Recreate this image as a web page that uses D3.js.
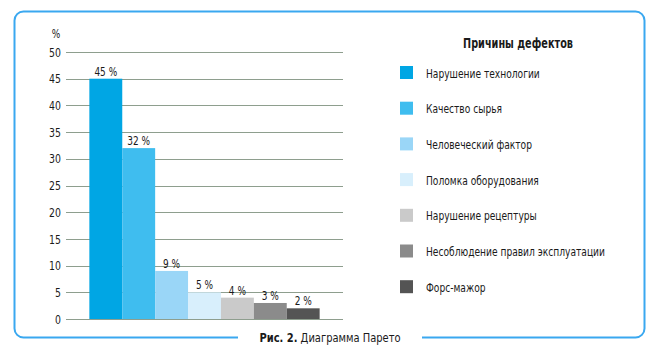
<!DOCTYPE html>
<html><head><meta charset="utf-8">
<script src="https://cdn.jsdelivr.net/npm/d3@7"></script>
<style>
body{margin:0;background:#fff;}
text{font-family:"DejaVu Sans Condensed","DejaVu Sans",sans-serif;fill:#1a1a1a;}
</style></head>
<body><svg id="c" width="664" height="351"></svg>
<script>
const categories = ["Нарушение технологии","Качество сырья","Человеческий фактор","Поломка оборудования","Нарушение рецептуры","Несоблюдение правил эксплуатации","Форс-мажор"];
const values = [45, 32, 9, 5, 4, 3, 2];
const colors = ["#00a6e4","#3fbdef","#9ad6f7","#d8effc","#cacaca","#8b8b8b","#545454"];
const yTicks = [0,5,10,15,20,25,30,35,40,45,50];
const legendTitle = "Причины дефектов";
const caption = ["Рис. 2.", " Диаграмма Парето"];

const NARROW = 0.8;
const svg = d3.select("#c");

function ntext(parent, x, y, str, size, anchor, k) {
  const g = parent.append("g").attr("transform", `translate(${x},${y}) scale(${k||NARROW},1)`);
  return g.append("text").attr("text-anchor", anchor||"start").style("font-size", size+"px").text(str);
}

// frame with gap for caption
const fx0=14.5, fy0=11.5, fx1=644.5, fy1=337.5, r=9;
const frame = d3.path();
frame.moveTo(238, fy1);
frame.lineTo(fx0+r, fy1);
frame.arcTo(fx0, fy1, fx0, fy1-r, r);
frame.lineTo(fx0, fy0+r);
frame.arcTo(fx0, fy0, fx0+r, fy0, r);
frame.lineTo(fx1-r, fy0);
frame.arcTo(fx1, fy0, fx1, fy0+r, r);
frame.lineTo(fx1, fy1-r);
frame.arcTo(fx1, fy1, fx1-r, fy1, r);
frame.lineTo(422, fy1);
svg.append("path").attr("d", frame.toString()).attr("fill","none").attr("stroke","#3aa8f0").attr("stroke-width",2);

const ct = ntext(svg, 330, 342, null, 13, "middle", 0.85);
ct.append("tspan").style("font-weight","bold").text(caption[0]);
ct.append("tspan").text(caption[1]);

const y = d3.scaleLinear().domain([0,50]).range([319,52]);
const x = d3.scaleBand().domain(categories).range([66,343]).paddingInner(0).paddingOuter(0.71);

svg.append("g").selectAll("line").data(yTicks).join("line")
  .attr("x1",66).attr("x2",343)
  .attr("y1",d=>Math.round(y(d))+0.5).attr("y2",d=>Math.round(y(d))+0.5)
  .attr("stroke","#8e9e8e").attr("stroke-width",1);

const yAxis = svg.append("g").attr("transform","translate(61,0)")
  .call(d3.axisLeft(y).tickValues(yTicks).tickSize(0).tickPadding(0));
yAxis.select(".domain").remove();
yAxis.selectAll("text").attr("x",0).attr("transform",`scale(${NARROW},1)`)
  .style("font-size","13px").style("font-family",null).attr("fill","#1a1a1a");
ntext(svg, 56, 38, "%", 12.5, "middle");

svg.append("g").selectAll("rect").data(values).join("rect")
  .attr("x",(d,i)=>x(categories[i])).attr("width",x.bandwidth())
  .attr("y",d=>y(d)).attr("height",d=>y(0)-y(d))
  .attr("fill",(d,i)=>colors[i]);

const labels = svg.append("g");
values.forEach((d,i)=>{
  ntext(labels, x(categories[i])+x.bandwidth()/2, y(d)-3, d+" %", 12.5, "middle");
});

ntext(svg, 518, 48, legendTitle, 13.5, "middle").style("font-weight","bold");

const lg = svg.append("g").selectAll("g").data(categories).join("g")
  .attr("transform",(d,i)=>`translate(400,${66+i*35.7})`);
lg.append("rect").attr("width",13).attr("height",13).attr("fill",(d,i)=>colors[i]);
lg.each(function(d){ ntext(d3.select(this), 26, 11.5, d, 13, "start", 0.78); });
</script></body></html>
